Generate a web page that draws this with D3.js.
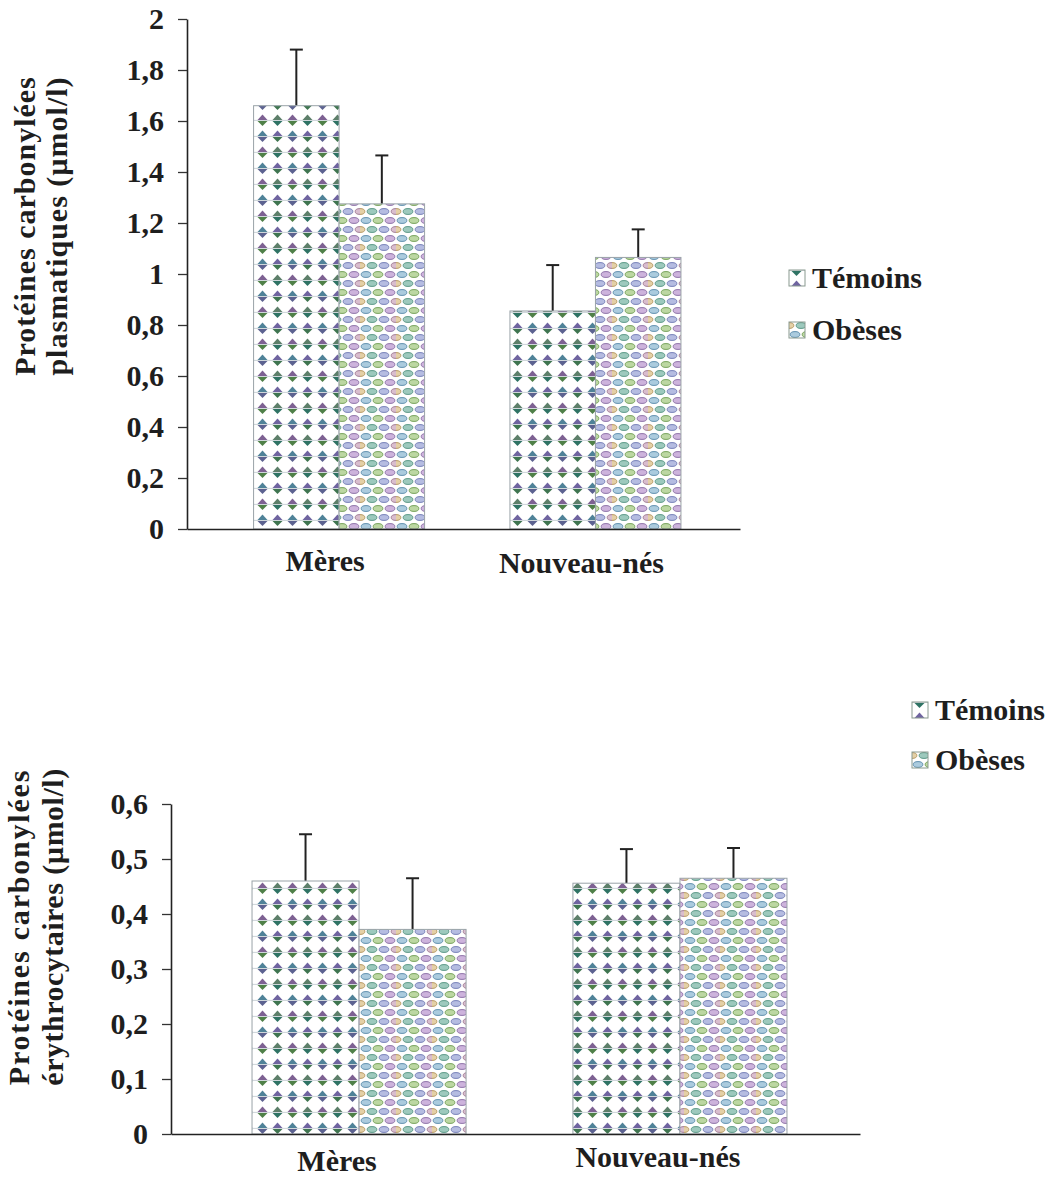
<!DOCTYPE html>
<html lang="fr">
<head>
<meta charset="UTF-8">
<title>Protéines carbonylées</title>
<script src="https://d3js.org/d3.v7.min.js"></script>
<style>
  body { margin: 0; background: #fff; }
  svg { display: block; font-family: "Liberation Serif", "Times New Roman", serif; font-weight: bold; }
</style>
</head>
<body>
<svg id="chart" width="1063" height="1178"></svg>
<script>
// categories and series
const categories = ["Mères", "Nouveau-nés"];
const series = ["Témoins", "Obèses"];

// plasma (upper chart), µmol/l
const plasmaTemoins = [1.66, 0.855];
const plasmaTemoinsErr = [0.22, 0.18];
const plasmaObeses = [1.275, 1.065];
const plasmaObesesErr = [0.19, 0.11];
const plasmaTicks = [0, 0.2, 0.4, 0.6, 0.8, 1, 1.2, 1.4, 1.6, 1.8, 2];

// erythrocytes (lower chart), µmol/l
const erythroTemoins = [0.46, 0.456];
const erythroTemoinsErr = [0.085, 0.062];
const erythroObeses = [0.372, 0.465];
const erythroObesesErr = [0.093, 0.055];
const erythroTicks = [0, 0.1, 0.2, 0.3, 0.4, 0.5, 0.6];

const svg = d3.select("#chart");
const defs = svg.append("defs");

// --- fill patterns ---
// Témoins : diamond dots on a faint grid
const pt = defs.append("pattern")
    .attr("id", "pat-temoins")
    .attr("patternUnits", "userSpaceOnUse")
    .attr("width", 30).attr("height", 32);
pt.append("rect").attr("width", 30).attr("height", 32).attr("fill", "#fff");
const dTop = ["#6f64a0", "#4f8298", "#5d7f6a", "#7d6192"];
const dBot = ["#3f7550", "#5c6290", "#2f7364", "#4f8048"];
[[7.5, 8], [22.5, 8], [7.5, 24], [22.5, 24]].forEach(function (c, i) {
    pt.append("line")
        .attr("x1", c[0] - 7.5).attr("x2", c[0] + 7.5)
        .attr("y1", c[1] + 0.4).attr("y2", c[1] + 0.4)
        .attr("stroke", "#bcc6cc").attr("stroke-width", 0.8);
    pt.append("path")
        .attr("d", `M${c[0] - 5},${c[1]} L${c[0]},${c[1] - 5.5} L${c[0] + 5},${c[1]} Z`)
        .attr("fill", dTop[i]);
    pt.append("path")
        .attr("d", `M${c[0] - 5},${c[1] + 0.9} L${c[0] + 5},${c[1] + 0.9} L${c[0]},${c[1] + 6} Z`)
        .attr("fill", dBot[i]);
});

// Obèses : offset rows of small pastel ovals
const po = defs.append("pattern")
    .attr("id", "pat-obeses")
    .attr("patternUnits", "userSpaceOnUse")
    .attr("width", 36).attr("height", 18);
po.append("rect").attr("width", 36).attr("height", 18).attr("fill", "#fff");
const oFill = ["#9cc2d8", "#b0d092", "#c4a6d6", "#e0c896", "#8cc0b2", "#a8b0dc", "#d2b2c6"];
const oStroke = ["#5f8fae", "#76a25a", "#8e72a8", "#b89a64", "#5a9886", "#7680b8", "#a27e96"];
const ovals = [[6, 4.5], [18, 4.5], [30, 4.5], [0, 13.5], [12, 13.5], [24, 13.5], [36, 13.5]];
ovals.forEach(function (c, i) {
    po.append("ellipse")
        .attr("cx", c[0]).attr("cy", c[1])
        .attr("rx", 4.8).attr("ry", 2.9)
        .attr("fill", oFill[i]).attr("fill-opacity", 0.85)
        .attr("stroke", oStroke[i]).attr("stroke-width", 1);
});

const fills = { "Témoins": "url(#pat-temoins)", "Obèses": "url(#pat-obeses)" };

function fmt(d) { return String(d).replace(".", ","); }

function drawPanel(p) {
    const g = svg.append("g");

    const x = d3.scaleBand()
        .domain(categories)
        .range([p.left, p.right])
        .paddingInner(0.333)
        .paddingOuter(p.outer)
        .align(p.align);
    const x1 = d3.scaleBand()
        .domain(series)
        .range([0, x.bandwidth()]);
    const y = d3.scaleLinear()
        .domain([0, p.max])
        .range([p.bottom, p.top]);

    const rows = [];
    categories.forEach(function (c, i) {
        rows.push({ cat: c, s: "Témoins", v: p.temoins[i], e: p.temoinsErr[i] });
        rows.push({ cat: c, s: "Obèses", v: p.obeses[i], e: p.obesesErr[i] });
    });

    // error bars (drawn first, bars overlap the lower part)
    const eb = g.append("g").attr("stroke", "#222").attr("stroke-width", 2);
    rows.forEach(function (d) {
        const cx = x(d.cat) + x1(d.s) + x1.bandwidth() / 2;
        eb.append("line")
            .attr("x1", cx).attr("x2", cx)
            .attr("y1", y(d.v)).attr("y2", y(d.v + d.e));
        eb.append("line")
            .attr("x1", cx - 6.5).attr("x2", cx + 6.5)
            .attr("y1", y(d.v + d.e)).attr("y2", y(d.v + d.e));
    });

    g.append("g")
        .selectAll("rect")
        .data(rows)
        .join("rect")
        .attr("x", d => x(d.cat) + x1(d.s))
        .attr("y", d => y(d.v))
        .attr("width", x1.bandwidth())
        .attr("height", d => y(0) - y(d.v))
        .attr("fill", d => fills[d.s])
        .attr("stroke", "#9aa3a8")
        .attr("stroke-width", 1);

    // y axis
    const ya = g.append("g")
        .attr("transform", `translate(${p.left},0)`)
        .call(d3.axisLeft(y).tickValues(p.ticks).tickSize(9).tickSizeOuter(0).tickPadding(14).tickFormat(fmt));
    ya.attr("font-family", null).attr("font-size", null);
    ya.select(".domain").attr("stroke", "#222").attr("stroke-width", 1.6);
    ya.selectAll(".tick line").attr("stroke", "#333").attr("stroke-width", 1.3);
    ya.selectAll(".tick text").attr("font-size", 30).attr("fill", "#1e1e1e");

    // x axis line
    const xa = g.append("g")
        .attr("transform", `translate(0,${p.bottom})`)
        .call(d3.axisBottom(x).tickSize(0).tickSizeOuter(0).tickFormat(""));
    xa.select(".domain").attr("stroke", "#222").attr("stroke-width", 1.6);

    // category labels
    g.append("g")
        .selectAll("text")
        .data(categories)
        .join("text")
        .attr("x", d => x(d) + x.bandwidth() / 2 + p.labelDx)
        .attr("y", (d, i) => p.bottom + p.labelDy[i])
        .attr("text-anchor", "middle")
        .attr("font-size", 30)
        .attr("fill", "#1e1e1e")
        .text(d => d);

    // y title (two lines)
    p.title.forEach(function (t, i) {
        g.append("text")
            .attr("transform", `translate(${p.titleX[i]},${p.titleY}) rotate(-90)`)
            .attr("text-anchor", "middle")
            .attr("font-size", 30)
            .attr("letter-spacing", p.titleSpacing[i])
            .attr("fill", "#1e1e1e")
            .text(t);
    });

    // legend
    const lg = g.append("g").attr("transform", `translate(${p.legendX},${p.legendY})`);
    series.forEach(function (s, i) {
        const row = lg.append("g").attr("transform", `translate(0,${i * p.legendGap})`);
        row.append("rect")
            .attr("x", 0).attr("y", -8)
            .attr("width", 16).attr("height", 16)
            .attr("fill", fills[s])
            .attr("stroke", "#8a9a90").attr("stroke-width", 1);
        row.append("text")
            .attr("x", 23).attr("y", 10)
            .attr("font-size", 30)
            .attr("fill", "#1e1e1e")
            .text(s);
    });
}

drawPanel({
    left: 187, right: 740, top: 19, bottom: 529, max: 2,
    outer: 0.245, align: 0.53,
    ticks: plasmaTicks,
    temoins: plasmaTemoins, temoinsErr: plasmaTemoinsErr,
    obeses: plasmaObeses, obesesErr: plasmaObesesErr,
    labelDx: -14, labelDy: [42, 44],
    title: ["Protéines carbonylées", "plasmatiques (µmol/l)"],
    titleX: [35, 67], titleY: 226, titleSpacing: [1, 1],
    legendX: 789, legendY: 278, legendGap: 52
});

drawPanel({
    left: 171, right: 860, top: 804, bottom: 1134, max: 0.6,
    outer: 0.24, align: 0.526,
    ticks: erythroTicks,
    temoins: erythroTemoins, temoinsErr: erythroTemoinsErr,
    obeses: erythroObeses, obesesErr: erythroObesesErr,
    labelDx: -22, labelDy: [37, 33],
    title: ["Protéines carbonylées", "érythrocytaires (µmol/l)"],
    titleX: [29, 63], titleY: 927, titleSpacing: [1.8, 0.5],
    legendX: 912, legendY: 710, legendGap: 50
});
</script>
</body>
</html>
